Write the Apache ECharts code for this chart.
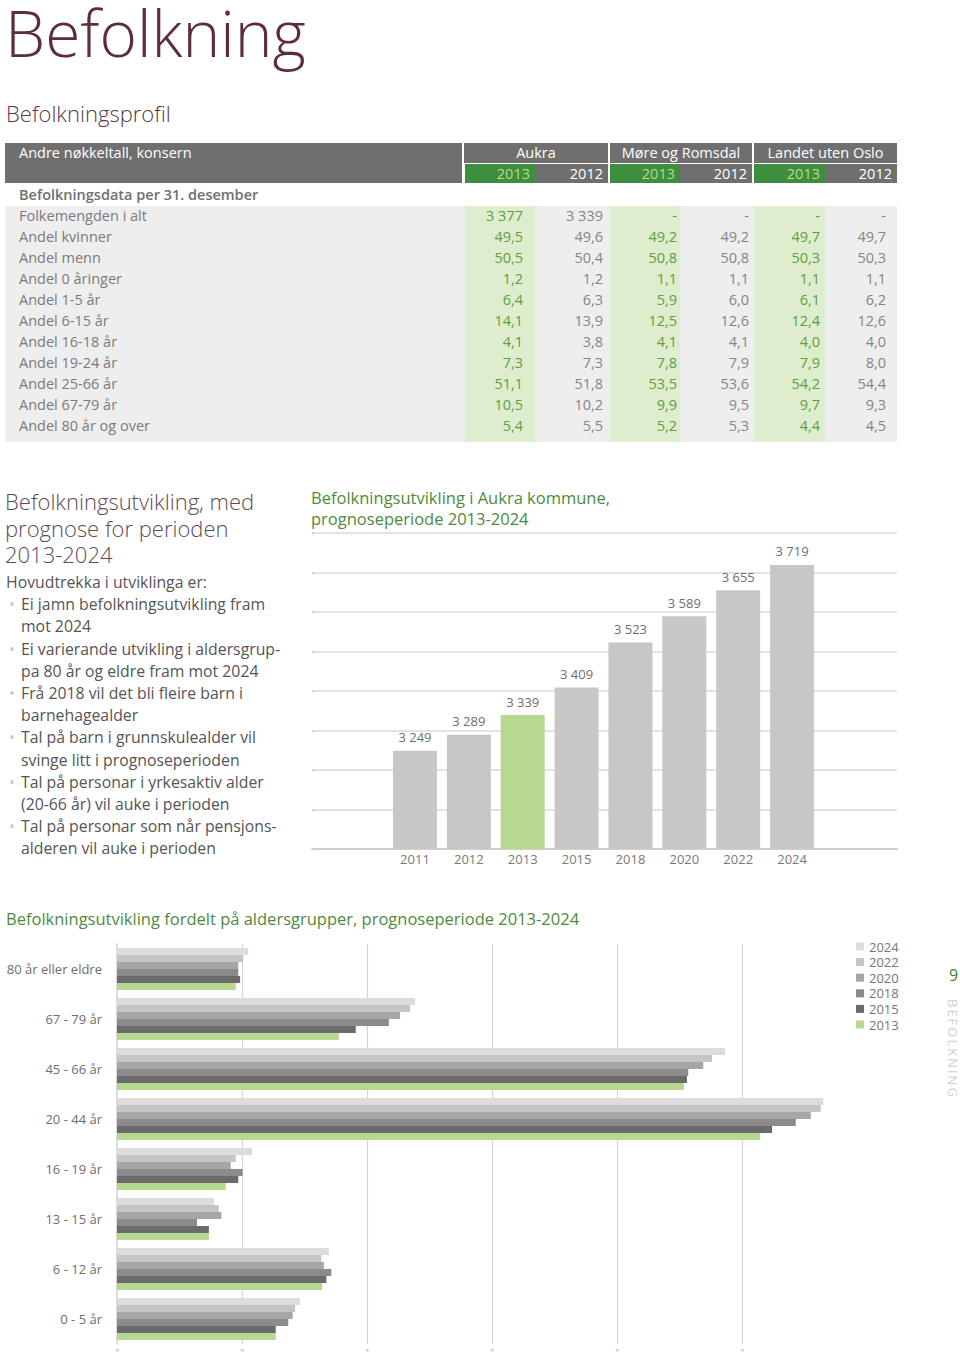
<!DOCTYPE html>
<html><head><meta charset="utf-8">
<script src="https://cdn.jsdelivr.net/npm/echarts@6/dist/echarts.min.js"></script>
<style>
html,body{margin:0;padding:0;background:#fff;}
body{width:960px;height:1354px;position:relative;overflow:hidden;font-family:'Open Sans',sans-serif;}
#chart{position:absolute;left:0;top:0;width:960px;height:1354px;}
.t{position:absolute;white-space:nowrap;}
.cell{position:absolute;box-sizing:border-box;white-space:nowrap;overflow:hidden;font-size:14.5px;}
ul{list-style:none;margin:0;padding:0;}
li{position:relative;padding-left:15px;}
li:before{content:'•';position:absolute;left:3px;color:#c5d2bf;}
</style>
</head><body>
<div id="chart"></div>
<div class="t" style="left:5px;top:13px;font-size:64px;line-height:40px;font-weight:300;color:#5b2d3f;">Befolkning</div>
<div class="t" style="left:6px;top:101px;font-size:22px;line-height:24px;font-weight:300;color:#5a3848;">Befolkningsprofil</div>
<div id="tbl"></div>
<div class="t" style="left:5px;top:488px;font-size:22px;line-height:26.5px;font-weight:300;color:#5d4d55;">Befolkningsutvikling, med<br>prognose for perioden<br>2013-2024</div>
<div class="t" style="left:6px;top:571px;font-size:15.8px;line-height:22.2px;color:#555;">Hovudtrekka i utviklinga er:
<ul>
<li>Ei jamn befolkningsutvikling fram<br>mot 2024</li>
<li>Ei varierande utvikling i aldersgrup-<br>pa 80 år og eldre fram mot 2024</li>
<li>Frå 2018 vil det bli fleire barn i<br>barnehagealder</li>
<li>Tal på barn i grunnskulealder vil<br>svinge litt i prognoseperioden</li>
<li>Tal på personar i yrkesaktiv alder<br>(20-66 år) vil auke i perioden</li>
<li>Tal på personar som når pensjons-<br>alderen vil auke i perioden</li>
</ul></div>
<div class="t" style="left:311px;top:487px;font-size:16.5px;line-height:21px;color:#4e8a3e;">Befolkningsutvikling i Aukra kommune,<br>prognoseperiode 2013-2024</div>
<div class="t" style="left:6px;top:908px;font-size:16.5px;line-height:21px;color:#4e8a3e;">Befolkningsutvikling fordelt på aldersgrupper, prognoseperiode 2013-2024</div>
<div class="t" style="left:949px;top:964px;font-size:16px;line-height:22px;color:#3d7a35;">9</div>
<div class="t" style="left:944px;top:999px;font-size:13px;letter-spacing:2px;color:#cfcfcf;writing-mode:vertical-rl;">BEFOLKNING</div>
<script>
// ---------- Table data ----------
const rowLabels = ['Folkemengden i alt','Andel kvinner','Andel menn','Andel 0 åringer','Andel 1-5 år','Andel 6-15 år','Andel 16-18 år','Andel 19-24 år','Andel 25-66 år','Andel 67-79 år','Andel 80 år og over'];
const regions = ['Aukra','Møre og Romsdal','Landet uten Oslo'];
const tableYears = ['2013','2012'];
const aukra2013 = [3377,49.5,50.5,1.2,6.4,14.1,4.1,7.3,51.1,10.5,5.4];
const aukra2012 = [3339,49.6,50.4,1.2,6.3,13.9,3.8,7.3,51.8,10.2,5.5];
const mr2013    = [null,49.2,50.8,1.1,5.9,12.5,4.1,7.8,53.5,9.9,5.2];
const mr2012    = [null,49.2,50.8,1.1,6.0,12.6,4.1,7.9,53.6,9.5,5.3];
const land2013  = [null,49.7,50.3,1.1,6.1,12.4,4.0,7.9,54.2,9.7,4.4];
const land2012  = [null,49.7,50.3,1.1,6.2,12.6,4.0,8.0,54.4,9.3,4.5];

// ---------- Bar chart data ----------
const years = ['2011','2012','2013','2015','2018','2020','2022','2024'];
const population = [3249,3289,3339,3409,3523,3589,3655,3719];
const highlightYear = '2013';

// ---------- Age group data (top to bottom) ----------
const ageGroups = ['80 år eller eldre','67 - 79 år','45 - 66 år','20 - 44 år','16 - 19 år','13 - 15 år','6 - 12 år','0 - 5 år'];
const age2024 = [210,477,973,1130,216,155,339,293];
const age2022 = [202,469,952,1126,190,163,327,285];
const age2020 = [194,453,938,1110,182,167,331,281];
const age2018 = [194,435,914,1086,201,128,343,274];
const age2015 = [197,382,912,1048,194,147,335,254];
const age2013 = [190,355,907,1029,174,147,328,254];

function thousands(v){return String(v).replace(/\B(?=(\d{3})+(?!\d))/g,' ');}
function fmtCell(v,i){ if(v===null) return '-'; return i===0 ? thousands(v) : v.toFixed(1).replace('.',','); }

// ---------- build table ----------
(function(){
  const tbl = document.getElementById('tbl');
  function box(x,y,w,h,bg,text,st){
    const d=document.createElement('div'); d.className='cell';
    d.style.left=x+'px';d.style.top=y+'px';d.style.width=w+'px';d.style.height=h+'px';
    if(bg) d.style.background=bg;
    if(text!==undefined) d.textContent=text;
    Object.assign(d.style, st||{});
    tbl.appendChild(d); return d;
  }
  const gray='#6f6f6f', green='#3f8d3f', lightBg='#efeeee', lightGreen='#deedcd';
  const colX=[465,535,610,680,754,825], colW=[70,73,70,72,71,72], padR=[12,5,3,3,5,11];
  const groupX=[464,610,754], groupW=[144,142,143];
  box(5,143,457,40,gray,'Andre nøkkeltall, konsern',{color:'#fff',paddingLeft:'14px',lineHeight:'20px'});
  regions.forEach((r,i)=>box(groupX[i],143,groupW[i],20,gray,r,{color:'#fff',textAlign:'center',lineHeight:'20px'}));
  for(let c=0;c<6;c++){
    const y=tableYears[c%2];
    const isG=(c%2===0);
    box(colX[c],164,colW[c],19,isG?green:gray,y,{color:isG?'#b3df8c':'#fff',textAlign:'right',paddingRight:'5px',lineHeight:'19px'});
  }
  box(5,184,600,21,null,'Befolkningsdata per 31. desember',{color:'#707070',fontWeight:'600',paddingLeft:'14px',lineHeight:'21px'});
  box(5,206,892,236,lightBg);
  [0,2,4].forEach(c=>box(colX[c],206,colW[c],236,lightGreen));
  const cols=[aukra2013,aukra2012,mr2013,mr2012,land2013,land2012];
  const rh=21;
  rowLabels.forEach((lab,i)=>{
    const y=204.5+i*rh;
    box(5,y,400,rh,null,lab,{color:'#7b7b7b',paddingLeft:'14px',lineHeight:rh+'px'});
    cols.forEach((arr,c)=>{
      box(colX[c],y,colW[c],rh,null,fmtCell(arr[i],i),{color:(c%2===0)?'#5f9e42':'#858585',textAlign:'right',paddingRight:padR[c]+'px',lineHeight:rh+'px'});
    });
  });
})();

// ---------- charts ----------
const chart = echarts.init(document.getElementById('chart'), null, {renderer:'svg'});
const ff = "'Open Sans', sans-serif";
const ageSeries = [
  {name:'2024', data:age2024, color:'#dcdcdc'},
  {name:'2022', data:age2022, color:'#c5c5c5'},
  {name:'2020', data:age2020, color:'#a6a6a6'},
  {name:'2018', data:age2018, color:'#8b8b8b'},
  {name:'2015', data:age2015, color:'#6b6b6b'},
  {name:'2013', data:age2013, color:'#b7d98f'}
];
chart.setOption({
  animation:false,
  textStyle:{fontFamily:ff},
  grid:[
    {left:312, top:533, width:585, height:316},
    {left:388, top:533, width:431, height:316},
    {left:117, top:944, width:750, height:400}
  ],
  xAxis:[
    {gridIndex:0, type:'value', min:0, max:1, axisLine:{show:true,lineStyle:{color:'#cfcfcf',width:2}}, axisTick:{show:false}, axisLabel:{show:false}, splitLine:{show:false}},
    {gridIndex:1, type:'category', data:years, axisLine:{show:false}, axisTick:{show:false}, axisLabel:{color:'#7a7a7a', fontSize:13, margin:3, fontFamily:ff}},
    {gridIndex:2, type:'value', min:0, max:1200, interval:200, axisLine:{show:false}, axisTick:{show:false},
      axisLabel:{formatter:()=>'●', fontSize:7, color:'#d0d0d0', margin:2, showMaxLabel:false},
      splitLine:{show:true, showMinLine:false, showMaxLine:false, lineStyle:{color:'#d4d4d4', width:1.2}}}
  ],
  yAxis:[
    {gridIndex:0, type:'value', min:3000, max:3800, interval:100, axisLine:{show:false}, axisTick:{show:false},
      axisLabel:{formatter:()=>'●', fontSize:6, color:'#d0d0d0', margin:-3},
      splitLine:{show:true, lineStyle:{color:'#dadada', width:1.5}}},
    {gridIndex:1, type:'value', min:3000, max:3800, interval:100, show:false, splitLine:{show:false}},
    {gridIndex:2, type:'category', data:ageGroups, inverse:true, axisLine:{show:true, lineStyle:{color:'#cfcfcf', width:1.5}}, axisTick:{show:false},
      axisLabel:{color:'#6e6e6e', fontSize:13, margin:15, fontFamily:ff}}
  ],
  legend:{orient:'vertical', left:851, top:934, itemWidth:8, itemHeight:8, itemGap:0.6, icon:'rect',
    data:ageSeries.map(s=>s.name), textStyle:{color:'#777', fontSize:13, lineHeight:15, fontFamily:ff}},
  series:[
    {type:'bar', xAxisIndex:1, yAxisIndex:1, barWidth:44,
      data:population.map((v,i)=>({value:v, itemStyle:{color: years[i]===highlightYear ? '#b7d98f' : '#c8c7c5'}})),
      label:{show:true, position:'top', distance:7, color:'#6e6e6e', fontSize:13, fontFamily:ff, formatter:p=>thousands(p.value)}}
  ].concat(ageSeries.map(s=>({
    type:'bar', name:s.name, xAxisIndex:2, yAxisIndex:2, data:s.data, itemStyle:{color:s.color},
    barGap:'0%', barCategoryGap:'16%'
  })))
});
</script>
</body></html>
